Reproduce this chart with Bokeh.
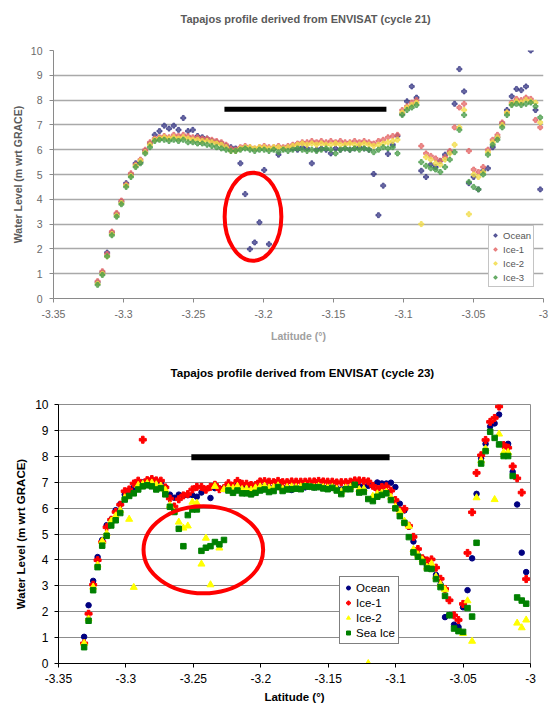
import numpy as np
from bokeh.plotting import figure
from bokeh.layouts import column
from bokeh.models import Range1d, FixedTicker, Legend, LegendItem, Title
from bokeh.embed import file_html
from bokeh.resources import INLINE

FONT = "Liberation Sans"

# ---------------- shared axis data ----------------
x_ticks = [-3.35, -3.3, -3.25, -3.2, -3.15, -3.1, -3.05, -3.0]
x_tick_labels = ["-3.35", "-3.3", "-3.25", "-3.2", "-3.15", "-3.1", "-3.05", "-3"]
y_ticks = [0, 1, 2, 3, 4, 5, 6, 7, 8, 9, 10]

# ---------------- cycle 21 (top chart) ----------------
c21_lat = [-3.3185, -3.3151, -3.3117, -3.3083, -3.3049, -3.3015, -3.2981, -3.2947, -3.2913, -3.2879,
           -3.2845, -3.2811, -3.2777, -3.2743, -3.2709, -3.2675, -3.2641, -3.2607, -3.2573, -3.2539,
           -3.2505, -3.2471, -3.2437, -3.2403, -3.2369, -3.2335, -3.2301, -3.2267, -3.2233, -3.2199,
           -3.2165, -3.2131, -3.2097, -3.2063, -3.2029, -3.1995, -3.1961, -3.1927, -3.1893, -3.1859,
           -3.1825, -3.1791, -3.1757, -3.1723, -3.1689, -3.1655, -3.1621, -3.1587, -3.1553, -3.1519,
           -3.1485, -3.1451, -3.1417, -3.1383, -3.1349, -3.1315, -3.1281, -3.1247, -3.1213, -3.1179,
           -3.1145, -3.1111, -3.1077, -3.1043, -3.1009, -3.0975, -3.0941, -3.0907, -3.0873, -3.0839,
           -3.0805, -3.0771, -3.0737, -3.0703, -3.0669, -3.0635, -3.0601, -3.0567, -3.0533, -3.0499,
           -3.0465, -3.0431, -3.0397, -3.0363, -3.0329, -3.0295, -3.0261, -3.0227, -3.0193, -3.0159,
           -3.0125, -3.0091, -3.0057, -3.0023]
c21_ocean = [0.65, 1.05, 1.85, 2.65, 3.40, 3.90, 4.65, 5.00, 5.45, 5.50,
             5.95, 6.25, 6.60, 6.75, 6.97, 6.85, 6.97, 6.80, 7.28, 6.75,
             6.80, 6.55, 6.50, 6.45, 6.35, 6.30, 6.25, 6.15, 6.10, 6.05,
             5.45, 4.21, 1.99, 2.26, 3.07, 5.18, 2.19, 6.05, 5.80, 6.05,
             6.10, 6.05, 6.00, 6.10, 6.05, 5.45, 6.00, 6.05, 6.00, 5.85,
             6.05, 6.00, 6.05, 6.00, 6.05, 6.10, 6.05, 6.00, 5.02, 3.36,
             4.55, 5.83, 6.20, 6.55, 7.45, 7.95, 8.55, 8.10, 5.15, 4.90,
             5.40, 5.30, 5.55, 5.80, 5.90, 7.85, 9.25, 8.35, 4.65, 4.90,
             4.40, 5.15, 5.25, 6.10, 6.50, 7.05, 7.60, 8.15, 8.45, 8.40,
             8.55, 10.0, 7.60, 4.40]
c21_ice1 = [0.70, 1.10, 1.80, 2.70, 3.45, 3.95, 4.60, 5.05, 5.40, 5.60,
            6.00, 6.30, 6.45, 6.50, 6.55, 6.50, 6.60, 6.55, 6.60, 6.55,
            6.50, 6.50, 6.45, 6.45, 6.40, 6.35, 6.30, 6.20, 6.05, 6.00,
            6.10, 6.15, 6.10, 6.05, 6.10, 6.15, 6.10, 6.10, 6.15, 6.10,
            6.15, 6.20, 6.25, 6.30, 6.30, 6.35, 6.30, 6.35, 6.30, 6.35,
            6.30, 6.35, 6.30, 6.30, 6.35, 6.30, 6.35, 6.30, 6.25, 6.35,
            6.40, 6.50, 6.55, 6.60, 7.60, 7.75, 7.90, 8.00, 6.15, 5.85,
            5.75, 5.65, 5.55, 5.70, 5.95, 6.90, 7.70, 7.85, 5.95, 5.20,
            5.10, 5.30, 6.00, 6.40, 6.60, 7.10, 7.50, 7.90, 8.05, 8.00,
            8.10, 8.05, 7.20, 6.90]
c21_ice2 = [0.60, 1.00, 1.70, 2.60, 3.35, 3.85, 4.55, 4.95, 5.35, 5.55,
            5.90, 6.20, 6.40, 6.45, 6.50, 6.45, 6.50, 6.45, 6.50, 6.45,
            6.40, 6.40, 6.35, 6.35, 6.30, 6.25, 6.20, 6.10, 5.95, 5.95,
            6.05, 6.10, 6.10, 6.05, 6.10, 6.10, 6.05, 6.10, 6.10, 6.05,
            6.10, 6.15, 6.20, 6.25, 6.20, 6.25, 6.20, 6.25, 6.20, 6.20,
            6.25, 6.20, 6.20, 6.25, 6.20, 6.20, 6.25, 6.20, 6.15, 6.20,
            6.25, 6.30, 6.35, 6.40, 7.50, 7.70, 7.80, 7.90, 3.00, 5.70,
            5.60, 5.45, 5.40, 5.60, 5.85, 6.20, 6.90, 7.60, 3.40, 5.00,
            4.90, 5.10, 5.90, 6.30, 6.50, 7.00, 7.50, 7.85, 7.95, 7.90,
            8.00, 7.95, 7.90, 7.10]
c21_ice3 = [0.55, 0.95, 1.70, 2.55, 3.30, 3.80, 4.50, 4.90, 5.30, 5.45,
            5.85, 6.10, 6.35, 6.40, 6.40, 6.35, 6.40, 6.35, 6.40, 6.30,
            6.30, 6.25, 6.25, 6.20, 6.15, 6.10, 6.05, 6.00, 5.95, 5.95,
            6.00, 6.05, 6.00, 5.95, 6.00, 6.00, 5.95, 6.00, 5.90, 6.00,
            5.95, 6.00, 6.05, 6.00, 5.95, 6.00, 5.95, 6.00, 6.05, 6.00,
            5.85, 6.00, 6.05, 6.00, 6.05, 6.00, 6.05, 6.00, 5.90, 6.00,
            6.10, 6.05, 6.10, 5.85, 7.40, 7.60, 7.70, 7.80, 5.50, 5.35,
            5.25, 5.20, 5.10, 5.30, 5.60, 5.90, 6.80, 7.40, 4.70, 4.50,
            4.40, 5.00, 5.80, 6.20, 6.40, 6.90, 7.40, 7.80, 7.85, 7.80,
            7.85, 7.90, 7.75, 7.30]
c21_names = ["Ocean", "Ice-1", "Ice-2", "Ice-3"]
c21_bar_lat = [-3.2279, -3.1122]
c21_bar_level = 7.63
c21_ellipse = {"lat": -3.2075, "level": 3.30, "w": 0.0405, "h": 3.55}

# ---------------- cycle 23 (bottom chart) ----------------
c23_lat = [-3.3310, -3.3277, -3.3243, -3.3210, -3.3176, -3.3143, -3.3109, -3.3076, -3.3042, -3.3009,
           -3.2976, -3.2942, -3.2909, -3.2875, -3.2842, -3.2808, -3.2775, -3.2741, -3.2708, -3.2674,
           -3.2641, -3.2608, -3.2574, -3.2541, -3.2507, -3.2474, -3.2440, -3.2407, -3.2373, -3.2340,
           -3.2307, -3.2273, -3.2240, -3.2206, -3.2173, -3.2139, -3.2106, -3.2072, -3.2039, -3.2005,
           -3.1972, -3.1939, -3.1905, -3.1872, -3.1838, -3.1805, -3.1771, -3.1738, -3.1704, -3.1671,
           -3.1638, -3.1604, -3.1571, -3.1537, -3.1504, -3.1470, -3.1437, -3.1403, -3.1370, -3.1336,
           -3.1303, -3.1270, -3.1236, -3.1203, -3.1169, -3.1136, -3.1102, -3.1069, -3.1035, -3.1002,
           -3.0969, -3.0935, -3.0902, -3.0868, -3.0835, -3.0801, -3.0768, -3.0734, -3.0701, -3.0667,
           -3.0634, -3.0601, -3.0567, -3.0534, -3.0500, -3.0467, -3.0433, -3.0400, -3.0366, -3.0333,
           -3.0299, -3.0266, -3.0233, -3.0199, -3.0166, -3.0132, -3.0099, -3.0065, -3.0032]
c23_ocean = [1.03, 2.25, 3.19, 4.11, 4.77, 5.34, 5.55, 5.92, 6.15, 6.52,
             6.68, 6.80, 6.94, 6.99, 7.03, 7.08, 7.04, 6.98, 6.80, 6.52,
             6.40, 6.52, 6.49, 6.50, 6.50, 6.44, 6.60, None, 6.39, 6.77,
             6.76, 6.77, 6.85, 6.80, 6.88, 6.82, 6.80, 6.78, 6.80, 6.82,
             6.85, 6.80, 6.78, 6.82, 6.78, 6.80, 6.70, 6.78, 6.76, 6.80,
             6.82, 6.80, 6.82, 6.80, 6.78, 6.78, 6.75, 6.72, 6.75, 6.80,
             6.91, 6.86, 6.84, 6.86, 6.88, 6.99, 6.95, 6.95, 6.98, 6.81,
             6.17, 5.91, 5.28, 4.71, 4.17, 4.05, 3.78, 3.72, 3.42, 3.05,
             1.79, 1.87, 1.50, 1.41, 2.17, 2.83, 4.06, 6.55, 7.92, 8.48,
             9.15, 9.27, 9.61, 8.45, 8.48, 7.40, 6.14, 4.28, 3.53]
c23_ice1 = [0.78, 1.92, 3.04, 3.99, 4.69, 5.26, 5.55, 5.85, 6.13, 6.65,
            6.72, 6.95, 7.06, 8.64, 7.08, 7.12, 7.07, 7.06, 6.80, 6.37,
            6.06, 6.34, 6.49, 6.54, 6.72, 6.82, 6.82, 6.71, 6.82, 6.90,
            6.73, 6.77, 6.96, 6.86, 7.05, 6.94, 6.94, 6.89, 6.89, 7.03,
            7.04, 7.02, 7.00, 7.05, 7.00, 7.00, 7.03, 7.02, 7.02, 7.02,
            7.03, 7.03, 7.05, 7.03, 7.02, 7.02, 6.99, 7.00, 7.00, 7.02,
            7.07, 7.07, 7.05, 7.03, 6.86, 6.73, 6.81, 6.84, 6.67, 6.31,
            5.91, 5.97, 5.32, 4.89, 4.42, 4.06, 3.98, 4.02, 3.70, 3.27,
            2.88, 2.44, 1.86, 1.68, 2.30, 4.27, 5.84, 7.36, 8.04, 8.63,
            9.33, 9.48, 9.92, 8.43, 8.33, 7.61, 7.15, 6.60, 3.26]
c23_ice2 = [0.78, 1.72, 2.95, 3.80, 4.72, 5.02, 5.50, 5.70, 5.91, 6.40,
            5.57, 2.94, 6.88, 6.92, 6.95, 6.97, 6.90, 6.85, 6.70, 6.10,
            5.85, 5.46, 5.23, 5.31, 6.23, 6.19, 3.84, 4.84, 3.04, 6.84,
            4.46, 6.72, 6.80, 6.76, 6.84, 6.72, 6.74, 6.70, 6.78, 6.82,
            6.85, 6.78, 6.80, 6.86, 6.74, 6.80, 6.82, 6.80, 6.82, 6.84,
            6.82, 6.80, 6.84, 6.80, 6.78, 6.80, 6.74, 6.64, 6.78, 6.80,
            6.86, 6.72, 6.74, 0.00, 6.46, 6.55, 6.58, 6.62, 6.42, 6.05,
            5.85, 5.50, 5.30, 4.40, 4.20, 4.00, 3.72, 3.85, 3.35, 3.05,
            2.85, None, None, None, 1.16, 2.42, 0.86, 6.40, 7.83, 8.29,
            None, 6.33, 8.86, 8.15, 8.15, None, 1.56, 1.38, 1.68]
c23_sea_ice = [0.63, 1.65, 2.83, 3.72, 4.55, 4.93, 5.33, 5.53, 5.81, 6.33,
               6.47, 6.57, 6.72, 6.84, 6.88, 6.84, 6.72, 6.77, 6.53, 6.05,
               5.85, 5.20, 4.53, 5.73, 5.95, 5.95, 4.35, 4.47, 4.53, 4.69,
               4.60, 4.77, 6.68, 6.59, 6.68, 6.57, 6.57, 6.53, 6.59, 6.68,
               6.72, 6.62, 6.66, 6.81, 6.66, 6.72, 6.73, 6.75, 6.73, 6.84,
               6.83, 6.80, 6.81, 6.76, 6.73, 6.78, 6.68, 6.54, 6.73, 6.73,
               6.90, 6.60, 6.62, 6.35, 6.27, 6.44, 6.51, 6.57, 6.31, 5.99,
               5.69, 5.43, 4.88, 4.29, 4.12, 3.92, 3.67, 3.65, 3.26, 2.95,
               2.61, 1.86, 1.35, 1.25, 1.22, 2.14, 1.81, 4.66, 7.72, 8.20,
               8.95, 8.71, 8.46, 8.01, 8.01, 7.24, 2.55, 2.43, 2.31]
c23_names = ["Ocean", "Ice-1", "Ice-2", "Sea Ice"]
c23_bar_lat = [-3.2515, -3.1045]
c23_bar_level = 7.96
c23_ellipse = {"lat": -3.2426, "level": 4.39, "w": 0.0887, "h": 3.36}

title21 = "Tapajos profile derived from ENVISAT (cycle 21)"
title23 = "Tapajos profile derived from ENVISAT (cycle 23)"
ylabel = "Water Level (m wrt GRACE)"
xlabel = "Latitude (°)"


def arr(v):
    return np.array(v, dtype=float)


def make_fig(height, left, right, top, bottom, tick_color, tick_size, axis_color,
             grid_color, grid_width, tick_standoff, title, title_size, title_color,
             title_offset, title_gap, label_size, label_color, xlab_color,
             xlab_standoff, ylab_standoff):
    p = figure(width=552, height=height, output_backend="svg", toolbar_location=None,
               x_range=Range1d(-3.35, -3.0), y_range=Range1d(0, 10),
               min_border_left=left, min_border_right=right,
               min_border_top=top, min_border_bottom=bottom,
               background_fill_color="white", border_fill_color="white",
               title=None)
    p.frame_align = False
    # invisible spacer title (nearest the frame) then the real title above it
    p.add_layout(Title(text=" ", text_font_size="1px", standoff=title_gap,
                       text_color="white"), "above")
    p.add_layout(Title(text=title, align="left", offset=title_offset,
                       vertical_align="bottom", standoff=0,
                       text_font=FONT, text_font_size=title_size,
                       text_font_style="bold", text_color=title_color), "above")
    p.xaxis.ticker = FixedTicker(ticks=x_ticks)
    p.xaxis.major_label_overrides = {t: s for t, s in zip(x_ticks, x_tick_labels)}
    p.yaxis.ticker = FixedTicker(ticks=y_ticks)
    p.xaxis.axis_label = xlabel
    p.yaxis.axis_label = ylabel
    p.xaxis.axis_label_standoff = xlab_standoff
    p.yaxis.axis_label_standoff = ylab_standoff
    p.xaxis.axis_label_text_color = xlab_color
    p.yaxis.axis_label_text_color = label_color
    for ax in (p.xaxis[0], p.yaxis[0]):
        ax.major_label_text_font = FONT
        ax.major_label_text_font_size = tick_size
        ax.major_label_text_color = tick_color
        ax.axis_line_color = axis_color
        ax.major_tick_line_color = axis_color
        ax.major_tick_out = 4
        ax.major_tick_in = 0
        ax.minor_tick_line_color = None
        ax.major_label_standoff = tick_standoff
        ax.axis_label_text_font = FONT
        ax.axis_label_text_font_size = label_size
        ax.axis_label_text_font_style = "bold"
    p.xgrid.grid_line_color = None
    p.ygrid.grid_line_color = grid_color
    p.ygrid.grid_line_width = grid_width
    return p


# ================= top chart =================
p1 = make_fig(346, 53, 9, 50, 48, "#6a6a6a", "10.5px", "#8a8a8a", "#a9a9a9", 1.5, 7,
              title21, "11px", "#5a5a5a", 127, 23, "10.5px", "#5a5a5a", "#a0a0a0", 9, 4)
p1.outline_line_color = None
c21_colors = ["#3a3a86", "#e46a6a", "#f2dc4a", "#4c9e4c"]
c21_series = [c21_ocean, c21_ice1, c21_ice2, c21_ice3]
r21 = []
for vals, col in zip(c21_series, c21_colors):
    r = p1.scatter(arr(c21_lat), arr(vals), marker="plus", size=5,
                   fill_color=col, line_color=col, fill_alpha=0.75, line_alpha=0.75)
    r21.append(r)
p1.line(c21_bar_lat, [c21_bar_level, c21_bar_level], line_width=5, line_color="black", line_cap="butt")
p1.ellipse(x=[c21_ellipse["lat"]], y=[c21_ellipse["level"]], width=[c21_ellipse["w"]],
           height=[c21_ellipse["h"]], fill_color=None, line_color="#ff0000", line_width=4)
leg1 = Legend(items=[LegendItem(label=n, renderers=[r]) for n, r in zip(c21_names, r21)],
              location=(435, 11), border_line_color="#8a8a8a", border_line_width=1,
              background_fill_color="white", background_fill_alpha=1.0,
              label_text_font=FONT, label_text_font_size="9.5px", label_text_color="#555555",
              padding=2, spacing=0, margin=0, glyph_width=8, glyph_height=14,
              label_height=14, label_standoff=4)
p1.add_layout(leg1)

# ================= bottom chart =================
p2 = make_fig(360, 58, 22, 58, 43, "#000000", "12px", "#000000", "#8c8c8c", 1, 6,
              title23, "11.6px", "#000000", 112, 23, "11.5px", "#000000", "#000000", 5, 5)
p2.outline_line_color = "#8c8c8c"
p2.outline_line_width = 1
c23_series = [c23_ocean, c23_ice1, c23_ice2, c23_sea_ice]
c23_markers = ["circle", "plus", "triangle", "square"]
c23_colors = ["#000080", "#ff0000", "#ffff00", "#008000"]
c23_sizes = [5.5, 7, 7, 5.5]
r23 = []
for vals, mk, col, sz in zip(c23_series, c23_markers, c23_colors, c23_sizes):
    r = p2.scatter(arr(c23_lat), arr(vals), marker=mk, size=sz,
                   fill_color=col, line_color=col)
    r23.append(r)
p2.line(c23_bar_lat, [c23_bar_level, c23_bar_level], line_width=6, line_color="black", line_cap="butt")
p2.ellipse(x=[c23_ellipse["lat"]], y=[c23_ellipse["level"]], width=[c23_ellipse["w"]],
           height=[c23_ellipse["h"]], fill_color=None, line_color="#ff0000", line_width=4)
leg2 = Legend(items=[LegendItem(label=n, renderers=[r]) for n, r in zip(c23_names, r23)],
              location=(281, 19), border_line_color="#000000", border_line_width=1,
              background_fill_color="white", background_fill_alpha=1.0,
              label_text_font=FONT, label_text_font_size="11.5px", label_text_color="#000000",
              padding=3, spacing=0, margin=0, glyph_width=10, glyph_height=15,
              label_height=15, label_standoff=3)
p2.add_layout(leg2)

layout = column(p1, p2, spacing=0)
open("out.html", "w").write(file_html(layout, INLINE))
